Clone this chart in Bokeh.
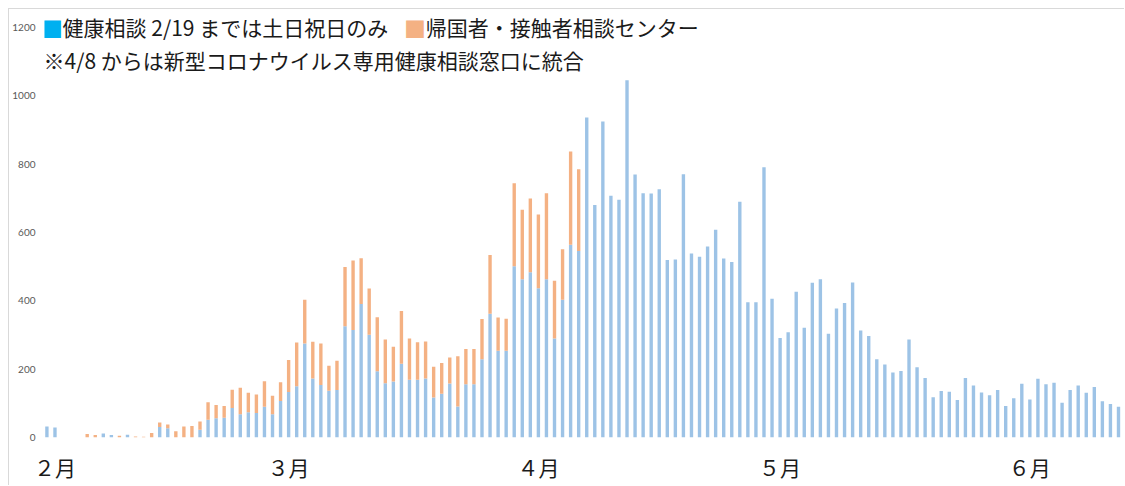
from bokeh.plotting import figure
from bokeh.models import ColumnDataSource, Range1d, FixedTicker, Label
from bokeh.embed import file_html
from bokeh.resources import INLINE

# ---- data (Feb 1 2020 onward, one value per day) ----
health = [32, 29, 0, 0, 0, 0, 0, 12, 7, 0, 8, 0, 0, 0, 31, 27, 0, 0, 0, 23,
          52, 56, 58, 86, 68, 74, 72, 90, 68, 107, 133, 150, 275, 173, 154, 137, 139, 326, 315, 391,
          301, 194, 159, 164, 216, 169, 169, 173, 117, 128, 158, 91, 156, 156, 229, 362, 254, 254, 501, 463,
          484, 437, 463, 290, 403, 564, 546, 937, 681, 925, 708, 696, 1046, 770, 715, 714, 727, 520, 521, 771,
          539, 529, 559, 608, 524, 514, 690, 396, 396, 791, 406, 291, 308, 427, 321, 453, 463, 304, 378, 394,
          454, 313, 297, 229, 214, 190, 195, 287, 206, 174, 118, 136, 134, 110, 174, 152, 132, 124, 139, 92,
          115, 157, 111, 172, 156, 160, 102, 139, 152, 131, 148, 106, 98, 90, 90]
returnee = [0, 0, 0, 0, 0, 10, 7, 0, 0, 5, 0, 3, 2, 13, 13, 11, 18, 32, 34, 24,
            51, 39, 34, 54, 78, 57, 54, 75, 54, 55, 94, 128, 128, 107, 121, 73, 86, 173, 203, 134,
            135, 158, 128, 102, 154, 121, 110, 108, 90, 90, 76, 147, 103, 103, 118, 172, 97, 94, 243, 204,
            216, 216, 252, 169, 148, 273, 239] + [0] * 68
month_labels = ["２月", "３月", "４月", "５月", "６月"]
month_days = [29, 31, 30, 31]          # Feb..May 2020
y_ticks = [0, 200, 400, 600, 800, 1000, 1200]

legend_health = "健康相談 2/19 までは土日祝日のみ"
legend_returnee = "帰国者・接触者相談センター"
note_text = "※4/8 からは新型コロナウイルス専用健康相談窓口に統合"

BLUE = "#9DC3E6"
ORANGE = "#F4B183"
CJK = "Noto Sans CJK JP"

day = list(range(len(health)))
src = ColumnDataSource(dict(day=day, health=health, returnee=returnee))

month_start = [0]
for d in month_days:
    month_start.append(month_start[-1] + d)
tick_pos = [m + 1.0 for m in month_start]

p = figure(width=1116, height=477,
           x_range=Range1d(-0.3, 133.87), y_range=Range1d(0, 1253),
           output_backend="svg", toolbar_location=None,
           min_border_left=32, min_border_right=0, min_border_top=0, min_border_bottom=49)
p.styles = {"margin": "8px 0 0 8px",
            "border-left": "1px solid #d9d9d9", "border-top": "1px solid #d9d9d9"}
p.outline_line_color = None
p.grid.visible = False
p.background_fill_color = "white"

p.vbar_stack(["health", "returnee"], x="day", width=0.42, color=[BLUE, ORANGE],
             line_color=None, source=src)

ya = p.yaxis[0]
ya.ticker = FixedTicker(ticks=y_ticks)
ya.axis_line_color = None
ya.major_tick_line_color = None
ya.minor_tick_line_color = None
ya.major_tick_out = 0
ya.major_tick_in = 0
ya.minor_tick_out = 0
ya.major_label_text_font = "Lato"
ya.major_label_text_font_size = "10px"
ya.major_label_text_color = "#595959"
ya.major_label_standoff = 9

xa = p.xaxis[0]
xa.ticker = FixedTicker(ticks=tick_pos)
xa.major_label_overrides = {t: lab for t, lab in zip(tick_pos, month_labels)}
xa.axis_line_color = None
xa.major_tick_line_color = None
xa.minor_tick_line_color = None
xa.major_tick_out = 0
xa.major_tick_in = 0
xa.minor_tick_out = 0
xa.major_label_text_font = CJK
xa.major_label_text_font_size = "21px"
xa.major_label_text_color = "#1a1a1a"
xa.major_label_standoff = 14

# legend / note text
p.add_layout(Label(x=0.64, y=1203, text="■", text_color="#00B0F0", text_font=CJK,
                   text_font_size="22px", text_align="center", text_baseline="middle"))
p.add_layout(Label(x=1.94, y=1203, text=legend_health, text_color="#1a1a1a", text_font=CJK,
                   text_font_size="21px", text_align="left", text_baseline="middle"))
p.add_layout(Label(x=45.67, y=1203, text="■", text_color=ORANGE, text_font=CJK,
                   text_font_size="22px", text_align="center", text_baseline="middle"))
p.add_layout(Label(x=47.03, y=1203, text=legend_returnee, text_color="#1a1a1a", text_font=CJK,
                   text_font_size="21px", text_align="left", text_baseline="middle"))
p.add_layout(Label(x=-0.41, y=1105, text=note_text, text_color="#1a1a1a", text_font=CJK,
                   text_font_size="21px", text_align="left", text_baseline="middle"))

open("out.html", "w").write(file_html(p, INLINE))
